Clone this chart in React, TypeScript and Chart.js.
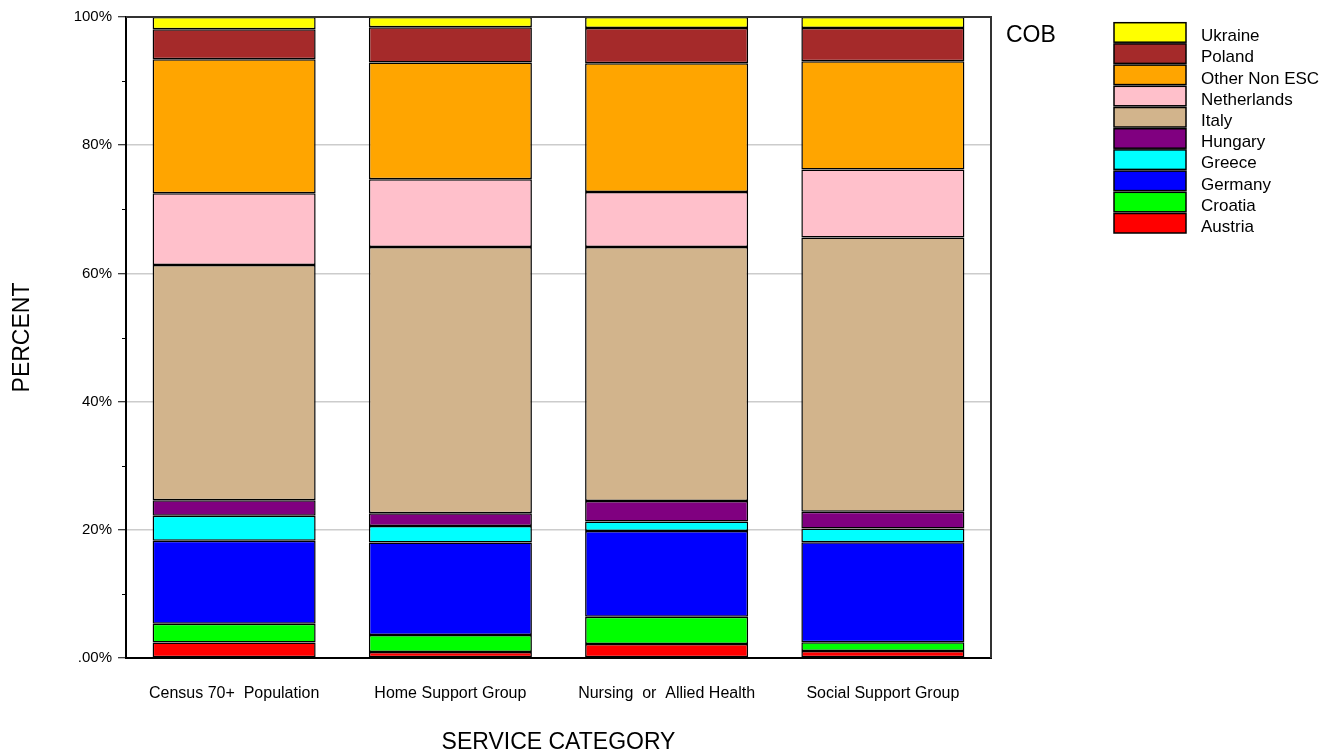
import React, { useEffect, useRef } from "react";
import { Chart, registerables } from "chart.js";

Chart.register(...registerables);

const categories = [
  "Census 70+  Population",
  "Home Support Group",
  "Nursing  or  Allied Health",
  "Social Support Group",
];

const seriesNames = [
  "Austria",
  "Croatia",
  "Germany",
  "Greece",
  "Hungary",
  "Italy",
  "Netherlands",
  "Other Non ESC",
  "Poland",
  "Ukraine",
];

const seriesColors = [
  "#FF0000",
  "#00FF00",
  "#0000FF",
  "#00FFFF",
  "#800080",
  "#D2B48C",
  "#FFC0CB",
  "#FFA500",
  "#A52A2A",
  "#FFFF00",
];

const austria = [2.4, 0.95, 2.2, 1.1];
const croatia = [2.95, 2.65, 4.25, 1.35];
const germany = [12.95, 14.4, 13.35, 15.6];
const greece = [3.9, 2.6, 1.5, 2.15];
const hungary = [2.4, 2.0, 3.2, 2.6];
const italy = [36.7, 41.5, 39.6, 42.8];
const netherlands = [11.2, 10.6, 8.6, 10.6];
const otherNonEsc = [20.9, 18.2, 20.1, 16.9];
const poland = [4.7, 5.5, 5.5, 5.2];
const ukraine = [1.9, 1.6, 1.7, 1.7];

const seriesValues = [
  austria,
  croatia,
  germany,
  greece,
  hungary,
  italy,
  netherlands,
  otherNonEsc,
  poland,
  ukraine,
];

const yTickValues = [0, 20, 40, 60, 80, 100];
const yTickLabels = [".00%", "20%", "40%", "60%", "80%", "100%"];
const yMinorTicks = [10, 30, 50, 70, 90];

const legendTitle = "COB";
const FONT = "'Liberation Sans', Arial, sans-serif";

const framePlugin = {
  id: "frame",
  afterDraw(chart: any) {
    const { ctx, chartArea } = chart;
    const y = chart.scales.y;
    ctx.save();
    // top and right frame
    ctx.strokeStyle = "#333";
    ctx.lineWidth = 2;
    ctx.beginPath();
    ctx.moveTo(chartArea.left, chartArea.top);
    ctx.lineTo(chartArea.right, chartArea.top);
    ctx.lineTo(chartArea.right, chartArea.bottom);
    ctx.stroke();
    // minor ticks
    ctx.strokeStyle = "#000";
    ctx.lineWidth = 1;
    yMinorTicks.forEach((v) => {
      const py = Math.round(y.getPixelForValue(v)) + 0.5;
      ctx.beginPath();
      ctx.moveTo(chartArea.left - 4, py);
      ctx.lineTo(chartArea.left, py);
      ctx.stroke();
    });
    // legend
    ctx.fillStyle = "#000";
    ctx.font = `23px ${FONT}`;
    ctx.textBaseline = "alphabetic";
    ctx.textAlign = "left";
    ctx.fillText(legendTitle, 1006, 42);
    const ds = chart.data.datasets.slice().reverse();
    const boxX = 1114;
    const boxW = 72;
    const boxH = 19.5;
    const startY = 22.7;
    const step = 21.2;
    ctx.font = `17px ${FONT}`;
    ctx.textBaseline = "middle";
    ds.forEach((d: any, i: number) => {
      const by = startY + i * step;
      ctx.fillStyle = d.backgroundColor;
      ctx.fillRect(boxX, by, boxW, boxH);
      ctx.strokeStyle = "#000";
      ctx.lineWidth = 1.5;
      ctx.strokeRect(boxX, by, boxW, boxH);
      ctx.fillStyle = "#000";
      ctx.fillText(d.label, 1201, by + boxH / 2 + 4);
    });
    ctx.restore();
  },
};

export default function App() {
  const ref = useRef<HTMLCanvasElement | null>(null);

  useEffect(() => {
    if (!ref.current) return;
    const chart = new Chart(ref.current, {
      type: "bar",
      data: {
        labels: categories,
        datasets: seriesNames.map((name, i) => ({
          label: name,
          data: seriesValues[i],
          backgroundColor: seriesColors[i],
          borderColor: "#000",
          borderWidth: 1.5,
          borderSkipped: false,
          categoryPercentage: 1,
          barPercentage: 0.754,
        })),
      },
      options: {
        responsive: false,
        animation: false,
        layout: { padding: { top: 17, right: 347, left: 0, bottom: 0 } },
        plugins: {
          legend: { display: false },
          tooltip: { enabled: false },
          title: { display: false },
        },
        scales: {
          x: {
            stacked: true,
            grid: { display: false, drawTicks: false },
            border: { display: true, color: "#000", width: 2 },
            ticks: {
              color: "#000",
              font: { family: FONT, size: 16 },
              padding: 26,
              maxRotation: 0,
              autoSkip: false,
            },
            title: {
              display: true,
              text: "SERVICE CATEGORY",
              color: "#000",
              font: { family: FONT, size: 23 },
              padding: { top: 0, bottom: 0 },
            },
            afterFit: (s: any) => {
              s.height = 98;
            },
          },
          y: {
            stacked: true,
            min: 0,
            max: 100,
            afterBuildTicks: (s: any) => {
              s.ticks = yTickValues.map((v) => ({ value: v }));
            },
            grid: {
              color: (c: any) =>
                c.tick && (c.tick.value === 0 || c.tick.value === 100) ? "rgba(0,0,0,0)" : "#cccccc",
              lineWidth: 1.5,
              tickColor: "#000",
              tickLength: 8,
              tickWidth: 1,
            },
            border: { display: true, color: "#000", width: 2 },
            ticks: {
              color: "#000",
              font: { family: FONT, size: 15 },
              padding: 6,
              callback: (v: any) => {
                const idx = yTickValues.indexOf(Number(v));
                return idx >= 0 ? yTickLabels[idx] : "";
              },
            },
            title: {
              display: true,
              text: "PERCENT",
              color: "#000",
              font: { family: FONT, size: 23 },
              padding: { top: 9, bottom: 0 },
            },
            afterFit: (s: any) => {
              s.width = 126;
            },
          },
        },
      },
      plugins: [framePlugin],
    });
    return () => chart.destroy();
  }, []);

  return (
    <div style={{ position: "fixed", left: 0, top: 0, width: 1338, height: 756, background: "#fff" }}>
      <canvas ref={ref} width={1338} height={756} />
    </div>
  );
}
